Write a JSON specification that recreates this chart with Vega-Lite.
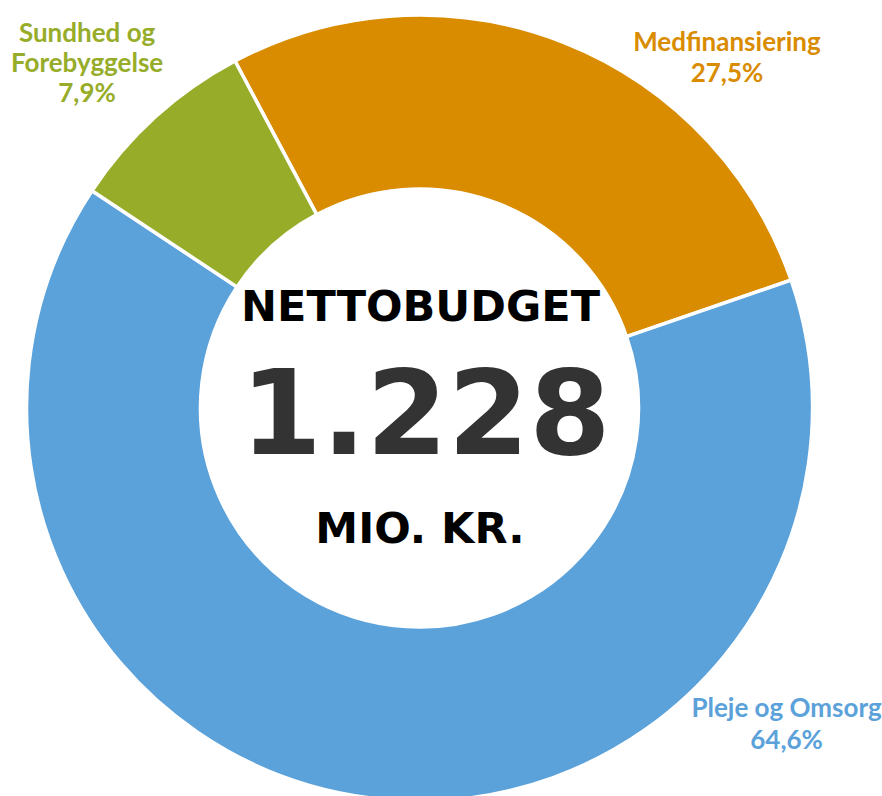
{
  "$schema": "https://vega.github.io/schema/vega-lite/v6.json",
  "width": 839,
  "height": 776,
  "padding": {"left": 0, "top": 20, "right": 43, "bottom": 0},
  "autosize": {"type": "none"},
  "background": "white",
  "config": {"view": {"stroke": null}},
  "datasets": {
    "slices": [
      {"category": "Medfinansiering", "idx": 1, "value": 27.5, "label": "Medfinansiering\n27,5%"},
      {"category": "Pleje og Omsorg", "idx": 2, "value": 64.6, "label": "Pleje og Omsorg\n64,6%"},
      {"category": "Sundhed og Forebyggelse", "idx": 3, "value": 7.9, "label": "Sundhed og\nForebyggelse\n7,9%"}
    ],
    "center": [
      {"line": "NETTOBUDGET"},
      {"line": "1.228"},
      {"line": "MIO. KR."}
    ]
  },
  "layer": [
    {
      "data": {"name": "slices"},
      "mark": {"type": "arc", "innerRadius": 219, "outerRadius": 393, "stroke": "white", "strokeWidth": 3.5},
      "encoding": {
        "theta": {"field": "value", "type": "quantitative", "stack": true, "scale": {"range": [-0.4887, 5.7945]}},
        "order": {"field": "idx", "type": "quantitative"},
        "color": {"field": "category", "type": "nominal", "legend": null,
          "scale": {"domain": ["Medfinansiering", "Pleje og Omsorg", "Sundhed og Forebyggelse"], "range": ["#D98C00", "#5BA1DA", "#97AD2A"]}}
      }
    },
    {
      "data": {"name": "slices"},
      "mark": {"type": "text", "radius": 470, "dx": 135.2, "dy": 72.3, "font": "Lato", "fontWeight": "bold", "fontSize": 26, "lineBreak": "\n", "lineHeight": 31, "align": "center", "baseline": "middle"},
      "encoding": {
        "theta": {"field": "value", "type": "quantitative", "stack": true},
        "order": {"field": "idx", "type": "quantitative"},
        "color": {"field": "category", "type": "nominal", "legend": null},
        "text": {"condition": {"test": "datum.category === 'Medfinansiering'", "field": "label"}, "value": ""}
      }
    },
    {
      "data": {"name": "slices"},
      "mark": {"type": "text", "radius": 470, "dx": -16.6, "dy": -26, "font": "Lato", "fontWeight": "bold", "fontSize": 26, "lineBreak": "\n", "lineHeight": 30, "align": "center", "baseline": "middle"},
      "encoding": {
        "theta": {"field": "value", "type": "quantitative", "stack": true},
        "order": {"field": "idx", "type": "quantitative"},
        "color": {"field": "category", "type": "nominal", "legend": null},
        "text": {"condition": {"test": "datum.category === 'Sundhed og Forebyggelse'", "field": "label"}, "value": ""}
      }
    },
    {
      "data": {"name": "slices"},
      "mark": {"type": "text", "radius": 470, "dx": 426.6, "dy": -165.2, "font": "Lato", "fontWeight": "bold", "fontSize": 26, "lineBreak": "\n", "lineHeight": 32, "align": "center", "baseline": "middle"},
      "encoding": {
        "theta": {"field": "value", "type": "quantitative", "stack": true},
        "order": {"field": "idx", "type": "quantitative"},
        "color": {"field": "category", "type": "nominal", "legend": null},
        "text": {"condition": {"test": "datum.category === 'Pleje og Omsorg'", "field": "label"}, "value": ""}
      }
    },
    {
      "data": {"name": "center"},
      "transform": [{"filter": "datum.line === 'NETTOBUDGET'"}],
      "mark": {"type": "text", "font": "DejaVu Sans", "fontWeight": "bold", "fontSize": 43, "color": "#000000", "align": "center", "baseline": "alphabetic", "dy": -87, "dx": 1},
      "encoding": {"text": {"field": "line"}}
    },
    {
      "data": {"name": "center"},
      "transform": [{"filter": "datum.line === '1.228'"}],
      "mark": {"type": "text", "font": "DejaVu Sans", "fontWeight": "bold", "fontSize": 117, "color": "#333333", "align": "center", "baseline": "alphabetic", "dy": 46, "dx": 6},
      "encoding": {"text": {"field": "line"}}
    },
    {
      "data": {"name": "center"},
      "transform": [{"filter": "datum.line === 'MIO. KR.'"}],
      "mark": {"type": "text", "font": "DejaVu Sans", "fontWeight": "bold", "fontSize": 43, "color": "#000000", "align": "center", "baseline": "alphabetic", "dy": 135, "dx": 0.5},
      "encoding": {"text": {"field": "line"}}
    }
  ]
}
